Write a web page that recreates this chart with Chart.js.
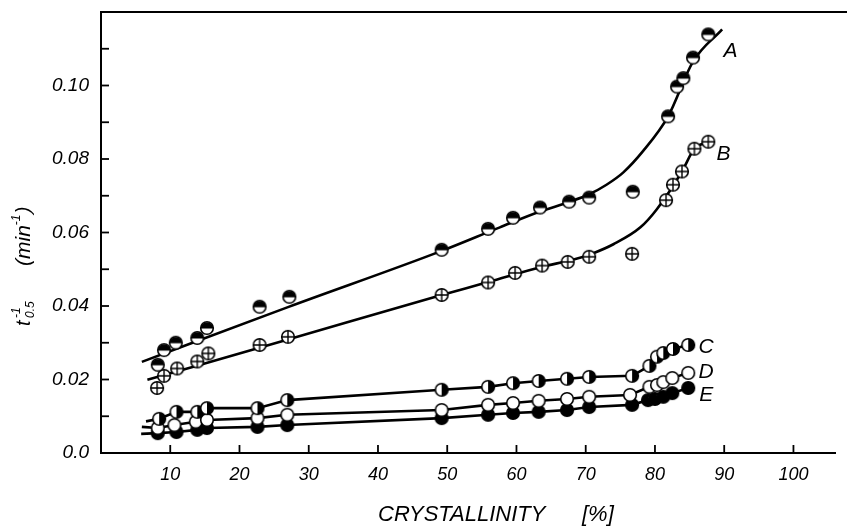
<!DOCTYPE html>
<html>
<head>
<meta charset="utf-8">
<script src="https://cdn.jsdelivr.net/npm/chart.js@4/dist/chart.umd.min.js"></script>
<style>
  html, body { margin: 0; padding: 0; background: #fff; }
  #wrap { width: 847px; height: 526px; }
</style>
</head>
<body>
<div id="wrap"><canvas id="c"></canvas></div>
<script>
// crystallinity [%] vs t0.5^-1 [min^-1]
const xA = [8.2, 9.1, 10.8, 13.9, 15.3, 22.9, 27.2, 49.2, 55.9, 59.5, 63.4, 67.6, 70.5, 76.8, 81.9, 83.2, 84.1, 85.5, 87.7];
const yA = [0.024, 0.028, 0.030, 0.0313, 0.034, 0.0398, 0.0425, 0.0553, 0.061, 0.064, 0.0668, 0.0684, 0.0695, 0.0711, 0.0916, 0.0997, 0.102, 0.1076, 0.1139];

const xB = [8.1, 9.1, 11.0, 13.9, 15.5, 22.9, 27.0, 49.2, 55.9, 59.8, 63.7, 67.4, 70.5, 76.7, 81.6, 82.6, 83.9, 85.7, 87.7];
const yB = [0.0177, 0.021, 0.023, 0.0249, 0.0271, 0.0294, 0.0316, 0.043, 0.0464, 0.049, 0.051, 0.052, 0.0534, 0.0542, 0.0688, 0.073, 0.0766, 0.0828, 0.0847];

const xC = [8.4, 10.9, 13.9, 15.3, 22.6, 26.9, 49.2, 55.9, 59.5, 63.2, 67.3, 70.5, 76.7, 79.2, 80.3, 81.2, 82.6, 84.8];
const yC = [0.0093, 0.0112, 0.0112, 0.0122, 0.0122, 0.0144, 0.0172, 0.018, 0.019, 0.0196, 0.0202, 0.0207, 0.021, 0.0237, 0.0262, 0.0272, 0.0283, 0.0294];

const xD = [8.2, 10.6, 13.7, 15.3, 22.6, 26.9, 49.2, 55.9, 59.5, 63.2, 67.3, 70.5, 76.4, 79.2, 80.3, 81.2, 82.5, 84.8];
const yD = [0.0068, 0.0076, 0.0085, 0.009, 0.0095, 0.0104, 0.0117, 0.0131, 0.0136, 0.0142, 0.0147, 0.0153, 0.0158, 0.018, 0.0185, 0.0193, 0.0204, 0.0218];

const xE = [8.2, 10.9, 13.9, 15.3, 22.6, 26.9, 49.2, 55.9, 59.5, 63.2, 67.3, 70.5, 76.7, 79.0, 80.0, 81.2, 82.5, 84.8];
const yE = [0.0054, 0.0057, 0.0063, 0.0068, 0.0071, 0.0076, 0.0095, 0.0104, 0.0109, 0.0112, 0.0117, 0.0125, 0.0131, 0.0144, 0.0147, 0.0153, 0.0163, 0.0177];

// hand-drawn fit curves through A and B
const fitAx = [5.9, 27, 49.2, 57.6, 63.4, 67.6, 70.5, 73, 75.4, 78.3, 81.9, 85.5, 89.7];
const fitAy = [0.0248, 0.0397, 0.055, 0.0614, 0.0657, 0.0683, 0.0704, 0.073, 0.0763, 0.0822, 0.0916, 0.1065, 0.1153];
const fitBx = [6.7, 27, 49.2, 55.9, 63.7, 68, 71, 74, 77.9, 80.3, 83.9, 85.7, 87.7];
const fitBy = [0.0199, 0.0309, 0.043, 0.0465, 0.0507, 0.0525, 0.0543, 0.0568, 0.0614, 0.0664, 0.0766, 0.0828, 0.0847];

// where the C, D, E lines start left of the first points
const startC = [6.5, 0.0086];
const startD = [5.9, 0.0071];
const startE = [5.8, 0.0052];

const curveNames = ['A', 'B', 'C', 'D', 'E'];
const nameX = [90.9, 89.9, 87.4, 87.4, 87.4];
const nameY = [0.1093, 0.0812, 0.0289, 0.0221, 0.0158];

const xTicks = [10, 20, 30, 40, 50, 60, 70, 80, 90, 100];

const pts = (xs, ys) => xs.map((x, i) => ({ x: x, y: ys[i] }));

// marker images
function marker(kind) {
  const c = document.createElement('canvas');
  c.width = 16; c.height = 16;
  const g = c.getContext('2d');
  const r = 6.3, cx = 8, cy = 8;
  g.lineWidth = 1.6;
  g.strokeStyle = '#000';
  g.fillStyle = '#fff';
  g.beginPath(); g.arc(cx, cy, r, 0, Math.PI * 2); g.fill();
  g.fillStyle = '#000';
  if (kind === 'topHalf') {
    g.beginPath(); g.arc(cx, cy + 0.5, r, Math.PI, Math.PI * 2); g.closePath(); g.fill();
  } else if (kind === 'rightHalf') {
    g.beginPath(); g.arc(cx, cy, r, -Math.PI / 2, Math.PI / 2); g.closePath(); g.fill();
  } else if (kind === 'full') {
    g.beginPath(); g.arc(cx, cy, r, 0, Math.PI * 2); g.fill();
  } else if (kind === 'plus') {
    g.lineWidth = 1.4;
    g.beginPath();
    g.moveTo(cx - r, cy); g.lineTo(cx + r, cy);
    g.moveTo(cx, cy - r); g.lineTo(cx, cy + r);
    g.stroke();
    g.lineWidth = 1.6;
  }
  g.beginPath(); g.arc(cx, cy, r, 0, Math.PI * 2); g.stroke();
  return c;
}

const markA = marker('topHalf');
const markB = marker('plus');
const markC = marker('rightHalf');
const markD = marker('open');
const markE = marker('full');

const lineSet = (data, smooth) => ({
  data: data,
  showLine: true,
  borderColor: '#000',
  borderWidth: 2.6,
  pointRadius: 0,
  cubicInterpolationMode: smooth ? 'monotone' : 'default',
  tension: 0,
  order: 2,
});
const markSet = (data, img) => ({
  data: data,
  showLine: false,
  pointStyle: img,
  pointRadius: 7,
  order: 1,
});

const decor = {
  id: 'decor',
  afterDraw(chart) {
    const { ctx, chartArea: a, scales } = chart;
    const xs = scales.x, ys = scales.y;
    ctx.save();
    ctx.strokeStyle = '#000';
    // top frame line
    ctx.lineWidth = 2;
    ctx.beginPath(); ctx.moveTo(a.left - 1, a.top); ctx.lineTo(chart.width, a.top); ctx.stroke();
    // inward ticks
    ctx.lineWidth = 1.8;
    for (let k = 1; k <= 11; k++) {
      const py = ys.getPixelForValue(k / 100);
      ctx.beginPath(); ctx.moveTo(a.left, py); ctx.lineTo(a.left + 8, py); ctx.stroke();
    }
    xTicks.forEach(v => {
      const px = xs.getPixelForValue(v);
      ctx.beginPath(); ctx.moveTo(px, a.bottom); ctx.lineTo(px, a.bottom - 8); ctx.stroke();
    });
    // curve names
    ctx.fillStyle = '#000';
    ctx.font = 'italic 21px "Liberation Sans"';
    ctx.textAlign = 'center';
    ctx.textBaseline = 'middle';
    curveNames.forEach((n, i) => {
      ctx.fillText(n, xs.getPixelForValue(nameX[i]), ys.getPixelForValue(nameY[i]));
    });
    // x title
    ctx.font = 'italic 22px "Liberation Sans"';
    ctx.textAlign = 'left';
    ctx.fillText('CRYSTALLINITY', 378, 515);
    ctx.fillText('[%]', 582, 515);
    // y title, rotated
    ctx.translate(24, 326);
    ctx.rotate(-Math.PI / 2);
    ctx.textBaseline = 'middle';
    ctx.font = 'italic 20px "Liberation Sans"';
    ctx.fillText('t', 0, 0);
    ctx.font = 'italic 12px "Liberation Sans"';
    ctx.fillText('-1', 8, -7);
    ctx.fillText('0.5', 8, 7);
    ctx.font = 'italic 21px "Liberation Sans"';
    ctx.fillText('(min', 60, 0);
    const w = ctx.measureText('(min').width;
    ctx.font = 'italic 12px "Liberation Sans"';
    ctx.fillText('-1', 60 + w, -7);
    const w2 = ctx.measureText('-1').width;
    ctx.font = 'italic 21px "Liberation Sans"';
    ctx.fillText(')', 60 + w + w2 + 1, 0);
    ctx.restore();
  }
};

new Chart(document.getElementById('c'), {
  type: 'scatter',
  data: {
    datasets: [
      markSet(pts(xA, yA), markA),
      markSet(pts(xB, yB), markB),
      markSet(pts(xC, yC), markC),
      markSet(pts(xD, yD), markD),
      markSet(pts(xE, yE), markE),
      lineSet(pts(fitAx, fitAy), true),
      lineSet(pts(fitBx, fitBy), true),
      lineSet(pts([startC[0], ...xC], [startC[1], ...yC]), false),
      lineSet(pts([startD[0], ...xD], [startD[1], ...yD]), false),
      lineSet(pts([startE[0], ...xE], [startE[1], ...yE]), false),
    ],
  },
  options: {
    responsive: true,
    maintainAspectRatio: false,
    animation: false,
    layout: { padding: { top: 12, right: 12, left: 0, bottom: 0 } },
    plugins: {
      legend: { display: false },
      tooltip: { enabled: false },
    },
    scales: {
      x: {
        type: 'linear',
        min: 0,
        max: 106,
        afterFit: (s) => { s.height = 73; s.paddingLeft = 0; s.paddingRight = 0; },
        grid: { display: false, drawTicks: false },
        border: { display: true, color: '#000', width: 2 },
        ticks: {
          stepSize: 10,
          includeBounds: false,
          autoSkip: false,
          maxRotation: 0,
          padding: 11,
          color: '#000',
          font: { family: 'Liberation Sans', style: 'italic', size: 18 },
          callback: (v) => (v > 0 && v % 10 === 0 ? String(v) : ''),
        },
      },
      y: {
        type: 'linear',
        min: 0,
        max: 0.12,
        afterFit: (s) => { s.width = 101; s.paddingTop = 0; s.paddingBottom = 0; },
        grid: { display: false, drawTicks: false },
        border: { display: true, color: '#000', width: 2 },
        ticks: {
          stepSize: 0.01,
          autoSkip: false,
          padding: 12,
          color: '#000',
          font: { family: 'Liberation Sans', style: 'italic', size: 19 },
          callback: (v) => {
            const k = Math.round(v * 100);
            if (k === 0) return '0.0';
            if (k % 2 !== 0 || k > 10) return '';
            return (k / 100).toFixed(2);
          },
        },
      },
    },
  },
  plugins: [decor],
});
</script>
</body>
</html>
